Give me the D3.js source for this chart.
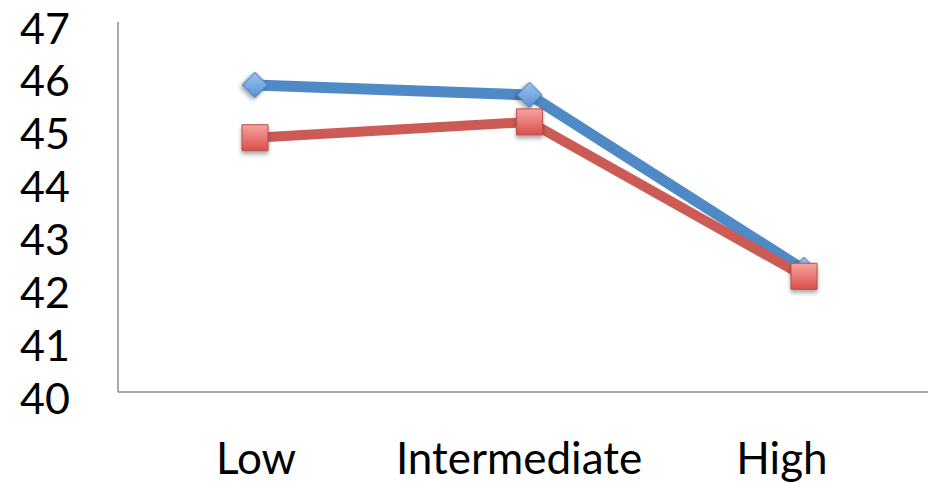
<!DOCTYPE html>
<html>
<head>
<meta charset="utf-8">
<script src="https://cdn.jsdelivr.net/npm/d3@7"></script>
<style>
  html, body { margin: 0; padding: 0; background: #fff; }
  svg text { font-family: Lato, "Open Sans", sans-serif; fill: #000; }
</style>
</head>
<body>
<svg id="chart" width="930" height="483"></svg>
<script>
// Categories and series
const categories = ["Low", "Intermediate", "High"];
const seriesA = [45.81, 45.62, 42.31];   // blue, diamonds
const seriesB = [44.81, 45.11, 42.19];   // red, squares
const yTicks = [40, 41, 42, 43, 44, 45, 46, 47];

const svg = d3.select("#chart");

const plot = { left: 118, right: 928, top: 22, bottom: 392 };

const y = d3.scaleLinear().domain([40, 47]).range([plot.bottom, plot.top]);
const x = d3.scalePoint().domain(categories).range([255, 804]);
const xLabel = d3.scalePoint().domain(categories).range([256, 782]);

const defs = svg.append("defs");

// Marker gradients
const gBlue = defs.append("linearGradient").attr("id", "gBlue")
  .attr("x1", 0).attr("y1", 0).attr("x2", 0).attr("y2", 1);
gBlue.append("stop").attr("offset", "0%").attr("stop-color", "#9cc3f0");
gBlue.append("stop").attr("offset", "100%").attr("stop-color", "#5b92d6");

const gBlueRot = defs.append("linearGradient").attr("id", "gBlueRot")
  .attr("x1", 0).attr("y1", 0).attr("x2", 1).attr("y2", 1);
gBlueRot.append("stop").attr("offset", "0%").attr("stop-color", "#9cc3f0");
gBlueRot.append("stop").attr("offset", "100%").attr("stop-color", "#5b92d6");

const gRed = defs.append("linearGradient").attr("id", "gRed")
  .attr("x1", 0).attr("y1", 0).attr("x2", 0).attr("y2", 1);
gRed.append("stop").attr("offset", "0%").attr("stop-color", "#f7a3a0");
gRed.append("stop").attr("offset", "100%").attr("stop-color", "#d94f4b");

// Soft drop shadow under markers
const shadow = defs.append("filter").attr("id", "shadow")
  .attr("x", "-50%").attr("y", "-50%").attr("width", "200%").attr("height", "200%");
shadow.append("feGaussianBlur").attr("in", "SourceAlpha").attr("stdDeviation", 2).attr("result", "b");
shadow.append("feOffset").attr("in", "b").attr("dx", 0).attr("dy", 3).attr("result", "o");
shadow.append("feComponentTransfer").attr("in", "o").attr("result", "s")
  .append("feFuncA").attr("type", "linear").attr("slope", 0.35);
const merge = shadow.append("feMerge");
merge.append("feMergeNode").attr("in", "s");
merge.append("feMergeNode").attr("in", "SourceGraphic");

// Axis lines
svg.append("line")
  .attr("x1", plot.left).attr("x2", plot.left)
  .attr("y1", plot.top).attr("y2", plot.bottom)
  .attr("stroke", "#8c8c8c").attr("stroke-width", 1.5);
svg.append("line")
  .attr("x1", plot.left).attr("x2", plot.right)
  .attr("y1", plot.bottom).attr("y2", plot.bottom)
  .attr("stroke", "#8c8c8c").attr("stroke-width", 1.5);

// Y tick labels
svg.append("g").selectAll("text").data(yTicks).join("text")
  .attr("x", 70)
  .attr("y", d => y(d) + 5)
  .attr("text-anchor", "end")
  .attr("dominant-baseline", "central")
  .attr("font-size", 43)
  .text(d => d);

// X category labels
svg.append("g").selectAll("text").data(categories).join("text")
  .attr("x", d => xLabel(d))
  .attr("y", 474)
  .attr("text-anchor", "middle")
  .attr("font-size", 44)
  .text(d => d);

const line = d3.line().x((d, i) => x(categories[i])).y(d => y(d));

function drawSeries(values, color, width, rotate, fill, size) {
  svg.append("path")
    .datum(values)
    .attr("d", line)
    .attr("fill", "none")
    .attr("stroke", color)
    .attr("stroke-width", width)
    .attr("stroke-linejoin", "round");
  svg.append("g").selectAll("path").data(values).join("path")
    .attr("transform", (d, i) => `translate(${x(categories[i])},${y(d)}) rotate(${rotate})`)
    .attr("d", d3.symbol().type(d3.symbolSquare).size(size))
    .attr("fill", fill)
    .attr("stroke", d3.color(color).darker(0.4))
    .attr("stroke-width", 1)
    .attr("filter", "url(#shadow)");
}

drawSeries(seriesA, "#4f8ac6", 11, 45, "url(#gBlueRot)", 320);
drawSeries(seriesB, "#cd5b55", 10, 0, "url(#gRed)", 680);
</script>
</body>
</html>
